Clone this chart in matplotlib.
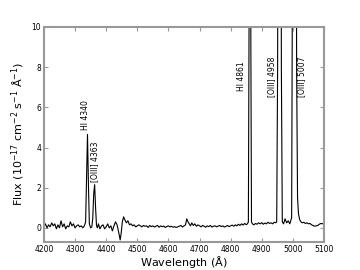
import numpy as np
import matplotlib
matplotlib.use('Agg')
import matplotlib.pyplot as plt

# Spektrum (okunan degerler, Angstrom / 1e-17 erg cm-2 s-1 A-1)
wave = [4200, 4205, 4210, 4215, 4220, 4225, 4230, 4235, 4240, 4245,
        4250, 4255, 4260, 4265, 4270, 4275, 4280, 4285, 4290, 4295,
        4300, 4305, 4310, 4315, 4320, 4325, 4330, 4334, 4337, 4340,
        4343, 4346, 4350, 4354, 4357, 4360, 4363, 4366, 4369, 4372,
        4375, 4380, 4385, 4390, 4395, 4400, 4405, 4410, 4415, 4420,
        4425, 4430, 4435, 4440, 4445, 4448, 4452, 4456, 4460, 4465,
        4470, 4475, 4480, 4485, 4490, 4495, 4500, 4505, 4510, 4515,
        4520, 4525, 4530, 4535, 4540, 4545, 4550, 4555, 4560, 4565,
        4570, 4575, 4580, 4585, 4590, 4595, 4600, 4605, 4610, 4615,
        4620, 4625, 4630, 4635, 4640, 4645, 4650, 4655, 4659, 4663,
        4667, 4671, 4675, 4680, 4685, 4690, 4695, 4700, 4705, 4710,
        4715, 4720, 4725, 4730, 4735, 4740, 4745, 4750, 4755, 4760,
        4765, 4770, 4775, 4780, 4785, 4790, 4795, 4800, 4805, 4810,
        4815, 4820, 4825, 4830, 4835, 4840, 4845, 4850, 4854, 4857,
        4859, 4861, 4863, 4865, 4867, 4870, 4875, 4880, 4885, 4890,
        4895, 4900, 4905, 4910, 4915, 4920, 4925, 4930, 4935, 4940,
        4945, 4948, 4951, 4953, 4957, 4961, 4963, 4966, 4970, 4975,
        4980, 4985, 4990, 4994, 4996, 4998, 5001, 5005, 5009, 5012,
        5015, 5018, 5022, 5026, 5030, 5035, 5040, 5045, 5050, 5055,
        5060, 5065, 5070, 5075, 5080, 5085, 5090, 5095, 5100]
flux = [0.05, 0.20, 0.00, 0.15, 0.05, 0.25, 0.10, 0.20, -0.05, 0.15,
        0.00, 0.35, 0.05, 0.20, -0.05, 0.10, 0.05, 0.30, 0.10, 0.20,
        0.00, 0.10, 0.15, 0.05, 0.10, 0.00, 0.10, 0.30, 2.40, 4.65,
        2.20, 0.20, 0.00, 0.05, 0.50, 1.70, 2.15, 1.00, 0.10, 0.00,
        0.20, -0.05, 0.10, 0.15, -0.05, 0.05, 0.20, 0.00, 0.10, -0.15,
        0.10, 0.30, 0.15, -0.20, -0.60, -0.30, 0.30, 0.55, 0.40, 0.25,
        0.35, 0.15, 0.20, 0.10, 0.15, 0.05, 0.10, 0.15, 0.10, 0.05,
        0.12, 0.08, 0.10, 0.02, 0.12, 0.06, 0.10, 0.04, 0.08, 0.12,
        0.03, 0.10, 0.06, 0.09, 0.02, 0.07, 0.10, 0.05, 0.08, 0.03,
        0.06, 0.02, 0.05, 0.08, 0.12, 0.04, 0.10, 0.15, 0.45, 0.30,
        0.20, 0.10, 0.25, 0.12, 0.20, 0.08, 0.15, 0.10, 0.05, 0.12,
        0.08, 0.03, 0.10, 0.06, 0.12, 0.04, 0.08, 0.10, 0.05, 0.09,
        0.12, 0.06, 0.10, 0.04, 0.08, 0.12, 0.06, 0.10, 0.14, 0.08,
        0.15, 0.10, 0.18, 0.12, 0.20, 0.14, 0.22, 0.16, 0.20, 0.30,
        9.00, 20.0, 20.0, 9.00, 0.30, 0.20, 0.15, 0.22, 0.18, 0.25,
        0.20, 0.26, 0.18, 0.24, 0.20, 0.28, 0.22, 0.25, 0.20, 0.28,
        0.25, 0.30, 8.00, 30.0, 50.0, 30.0, 8.00, 0.30, 0.20, 0.45,
        0.25, 0.35, 0.20, 0.40, 0.50, 9.00, 40.0, 120., 40.0, 8.00,
        1.50, 0.70, 0.40, 0.30, 0.25, 0.28, 0.22, 0.25, 0.20, 0.22,
        0.15, 0.12, 0.08, 0.10, 0.12, 0.18, 0.22, 0.20, 0.25]

# Cizgi etiketleri
line_names = ['HI 4340', '[OIII] 4363', 'HI 4861', '[OIII] 4958', '[OIII] 5007']
label_x = [4333, 4362, 4836, 4932, 5028]
label_y = [4.85, 2.3, 6.8, 6.5, 6.5]

fig = plt.figure(figsize=(3.6, 2.7), dpi=100)
ax = fig.add_axes([0.122, 0.104, 0.778, 0.796])
ax.plot(wave, flux, color='black', lw=0.8)

for name, lx, ly in zip(line_names, label_x, label_y):
    ax.text(lx, ly, name, rotation=90, ha='center', va='bottom', fontsize=5.5)

ax.set_xlim(4200, 5100)
ax.set_ylim(-0.7, 10)
ax.set_xticks(np.arange(4200, 5101, 100))
ax.set_yticks([0, 2, 4, 6, 8, 10])
ax.tick_params(labelsize=5.5, direction='in', top=True, right=True,
               length=3, color='#999999', width=0.8, pad=2)
for s in ax.spines.values():
    s.set_color('#999999')
    s.set_linewidth(1.5)

ax.set_xlabel(r'Wavelength ($\mathrm{\AA}$)', fontsize=8, labelpad=0)
ax.set_ylabel(r'Flux (10$^{-17}$ cm$^{-2}$ s$^{-1}$ $\mathrm{\AA}^{-1}$)', fontsize=8, labelpad=3)

plt.savefig('out.png', dpi=100)
